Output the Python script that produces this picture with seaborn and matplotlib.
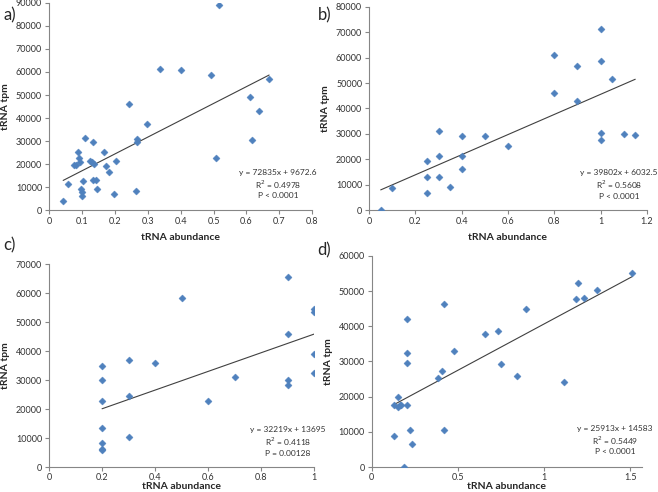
import numpy as np
import pandas as pd
import matplotlib
matplotlib.use("Agg")
import matplotlib.pyplot as plt
import seaborn as sns

# panel a
a_x = [0.043, 0.058, 0.077, 0.081, 0.087, 0.091, 0.093, 0.109, 0.098, 0.101, 0.101, 0.104,
       0.124, 0.132, 0.137, 0.134, 0.134, 0.142, 0.147, 0.167, 0.174, 0.181, 0.197, 0.203,
       0.243, 0.263, 0.266, 0.268, 0.297, 0.338, 0.401, 0.492, 0.507, 0.516, 0.611, 0.617,
       0.637, 0.669]
a_y = [4000, 11300, 19700, 19700, 25300, 22600, 21100, 31500, 9100, 8000, 6100, 12600,
       21400, 20700, 20000, 29700, 13000, 13000, 9100, 25300, 19200, 16400, 6800, 21400,
       46300, 8200, 29700, 30700, 37600, 61200, 60800, 58800, 22700, 88900, 49200, 30500,
       43100, 56900]

# panel b
b_x = [0.05, 0.10, 0.25, 0.25, 0.25, 0.30, 0.30, 0.30, 0.35, 0.40, 0.40, 0.40, 0.50,
       0.60, 0.80, 0.80, 0.90, 0.90, 1.00, 1.00, 1.00, 1.00, 1.05, 1.10, 1.15]
b_y = [0, 8500, 19400, 13000, 6700, 31200, 21400, 13000, 9200, 29200, 21100, 16300, 29200,
       25200, 61000, 46200, 56900, 43000, 71200, 58500, 30400, 27500, 51700, 30000, 29400]

# panel c
c_x = [0.2, 0.2, 0.2, 0.2, 0.2, 0.2, 0.2, 0.3, 0.3, 0.3, 0.4, 0.5, 0.6, 0.7,
       0.9, 0.9, 0.9, 0.9, 1.0, 1.0, 1.0, 1.0]
c_y = [35000, 29900, 22700, 13500, 8400, 6300, 5800, 36900, 24500, 10400, 35900, 58200,
       22900, 31000, 65500, 45800, 30000, 28400, 54700, 53500, 38900, 32600]

# panel d
d_x = [0.131, 0.131, 0.150, 0.150, 0.162, 0.170, 0.202, 0.202, 0.202, 0.202, 0.190,
       0.221, 0.231, 0.383, 0.410, 0.420, 0.420, 0.478, 0.660, 0.730, 0.749, 0.845,
       0.895, 1.117, 1.186, 1.196, 1.232, 1.305, 1.513]
d_y = [17700, 8900, 20000, 17000, 17500, 17600, 42000, 32300, 29700, 17500, 0,
       10400, 6500, 25400, 27200, 46300, 10400, 33100, 37900, 38800, 29200, 25800,
       45000, 24100, 47900, 52200, 48100, 50300, 55100]

stats_text = [
    "y = 72835x + 9672.6\nR$^2$ = 0.4978\nP < 0.0001",
    "y = 39802x + 6032.5\nR$^2$ = 0.5608\nP < 0.0001",
    "y = 32219x + 13695\nR$^2$ = 0.4118\nP = 0.00128",
    "y = 25913x + 14583\nR$^2$ = 0.5449\nP < 0.0001",
]
panel_labels = ["a)", "b)", "c)", "d)"]

sns.set_style("ticks")
plt.rcParams["font.family"] = ["Lato", "DejaVu Sans"]

fig = plt.figure(figsize=(6.58, 4.92), dpi=100)
positions = [
    [0.0745, 0.573, 0.400, 0.421],
    [0.561, 0.573, 0.422, 0.413],
    [0.0745, 0.0508, 0.403, 0.412],
    [0.565, 0.0508, 0.411, 0.429],
]
xlims = [(0, 0.8), (0, 1.2), (0, 1.0), (0, 1.57)]
xsteps = [0.1, 0.2, 0.2, 0.5]
xmaxtick = [0.8, 1.2, 1.0, 1.5]
ylims = [90000, 80000, 70000, 60000]
data = [(a_x, a_y), (b_x, b_y), (c_x, c_y), (d_x, d_y)]
text_pos = [(0.87, 0.20), (0.90, 0.20), (0.90, 0.20), (0.90, 0.20)]
label_pos = [(0.005, 0.985), (0.483, 0.985), (0.005, 0.518), (0.482, 0.508)]
xlabelpads = [5, 5, 0, 0]

blue = "#4F81BD"
grey = "#868686"

for i in range(4):
    ax = fig.add_axes(positions[i])
    df = pd.DataFrame({"x": data[i][0], "y": data[i][1]})
    sns.scatterplot(data=df, x="x", y="y", marker="D", s=13, color=blue,
                    edgecolor=blue, linewidth=0.3, ax=ax, zorder=3)
    sns.regplot(data=df, x="x", y="y", scatter=False, ci=None, truncate=True,
                line_kws={"color": "#404040", "linewidth": 0.8}, ax=ax)
    ax.set_xlim(*xlims[i])
    ax.set_ylim(0, ylims[i])
    ax.set_xticks(np.arange(0, xmaxtick[i] + 1e-9, xsteps[i]))
    ax.set_yticks(np.arange(0, ylims[i] + 1, 10000))
    ax.xaxis.set_major_formatter(matplotlib.ticker.FuncFormatter(lambda v, p: f"{v:g}"))
    ax.yaxis.set_major_formatter(matplotlib.ticker.FuncFormatter(lambda v, p: f"{v:.0f}"))
    sns.despine(ax=ax)
    for s in ["left", "bottom"]:
        ax.spines[s].set_color(grey)
        ax.spines[s].set_linewidth(0.8)
    ax.tick_params(axis="both", labelsize=6.5, colors=grey, labelcolor="#333333",
                   length=3, width=0.8, pad=2)
    if i >= 2:
        ax.tick_params(axis="x", pad=1)
    ax.set_xlabel("tRNA abundance", fontsize=7.5, fontweight="bold",
                  labelpad=xlabelpads[i])
    ax.set_ylabel("tRNA tpm", fontsize=7.5, fontweight="bold", labelpad=4)
    ax.text(text_pos[i][0], text_pos[i][1], stats_text[i], transform=ax.transAxes,
            ha="center", va="top", fontsize=6, color="#333333", linespacing=1.25)
    fig.text(label_pos[i][0], label_pos[i][1], panel_labels[i], fontsize=12,
             ha="left", va="top")

fig.savefig("out.png", dpi=100)
